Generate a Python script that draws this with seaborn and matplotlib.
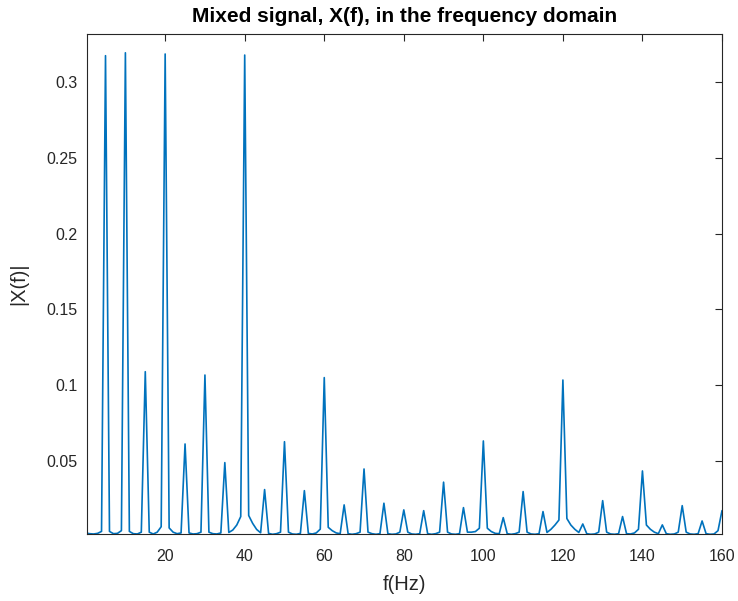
import numpy as np
import pandas as pd
import matplotlib
matplotlib.use("Agg")
import matplotlib.pyplot as plt
import seaborn as sns

# frequency axis (Hz) and magnitude, 1 Hz bins
freq = list(range(0, 161))
mag = [
    0.0025,
    0.0020, 0.0018, 0.0022, 0.0035, 0.3174,
    0.0035, 0.0020, 0.0022, 0.0040, 0.3193,
    0.0035, 0.0020, 0.0018, 0.0030, 0.1089,
    0.0030, 0.0018, 0.0030, 0.0066, 0.3185,
    0.0058, 0.0030, 0.0020, 0.0025, 0.0612,
    0.0025, 0.0018, 0.0020, 0.0030, 0.1067,
    0.0030, 0.0020, 0.0018, 0.0025, 0.0489,
    0.0028, 0.0044, 0.0077, 0.0133, 0.3178,
    0.0140, 0.0088, 0.0048, 0.0026, 0.0311,
    0.0022, 0.0016, 0.0020, 0.0030, 0.0627,
    0.0030, 0.0018, 0.0016, 0.0022, 0.0304,
    0.0022, 0.0018, 0.0025, 0.0050, 0.1050,
    0.0062, 0.0040, 0.0025, 0.0020, 0.0210,
    0.0020, 0.0016, 0.0020, 0.0030, 0.0447,
    0.0030, 0.0020, 0.0016, 0.0020, 0.0221,
    0.0020, 0.0016, 0.0018, 0.0030, 0.0177,
    0.0030, 0.0018, 0.0016, 0.0020, 0.0172,
    0.0020, 0.0016, 0.0020, 0.0030, 0.0360,
    0.0030, 0.0018, 0.0016, 0.0020, 0.0192,
    0.0030, 0.0030, 0.0034, 0.0056, 0.0632,
    0.0056, 0.0034, 0.0022, 0.0020, 0.0126,
    0.0020, 0.0016, 0.0020, 0.0030, 0.0298,
    0.0030, 0.0018, 0.0016, 0.0020, 0.0166,
    0.0028, 0.0049, 0.0077, 0.0110, 0.1034,
    0.0120, 0.0077, 0.0049, 0.0028, 0.0084,
    0.0020, 0.0016, 0.0018, 0.0030, 0.0238,
    0.0030, 0.0018, 0.0016, 0.0020, 0.0133,
    0.0020, 0.0018, 0.0025, 0.0049, 0.0434,
    0.0077, 0.0049, 0.0030, 0.0020, 0.0078,
    0.0020, 0.0016, 0.0018, 0.0030, 0.0205,
    0.0030, 0.0018, 0.0016, 0.0020, 0.0104,
    0.0020, 0.0016, 0.0018, 0.0040, 0.0172,
]

x_ticks = [20, 40, 60, 80, 100, 120, 140, 160]
y_ticks = [0.05, 0.1, 0.15, 0.2, 0.25, 0.3]
y_tick_labels = ["0.05", "0.1", "0.15", "0.2", "0.25", "0.3"]

df = pd.DataFrame({"f": freq, "X": mag})

sns.set_style("white")
plt.rcParams["font.family"] = ["Liberation Sans", "DejaVu Sans"]

fig = plt.figure(figsize=(7.38, 6.01), dpi=100)
ax = fig.add_axes([0.1179, 0.1115, 0.8604, 0.8319])

sns.lineplot(data=df, x="f", y="X", ax=ax, color="#0072BD", linewidth=1.2)

ax.set_xlim(0.35, 160)
ax.set_ylim(0.0018, 0.3317)
ax.set_xticks(x_ticks)
ax.set_yticks(y_ticks)
ax.set_yticklabels(y_tick_labels)

ax.tick_params(direction="in", top=True, right=True, length=5, width=0.8,
               colors="#262626", labelsize=11.5)
ax.tick_params(axis="x", pad=11)
ax.tick_params(axis="y", pad=7)
for s in ax.spines.values():
    s.set_color("#262626")
    s.set_linewidth(0.8)

ax.set_title("Mixed signal, X(f), in the frequency domain", fontsize=15,
             fontweight="bold", color="black", pad=9)
ax.set_xlabel("f(Hz)", fontsize=14.5, color="#262626", labelpad=8)
ax.set_ylabel("|X(f)|", fontsize=14.5, color="#262626", labelpad=13)

fig.savefig("out.png", dpi=100)
